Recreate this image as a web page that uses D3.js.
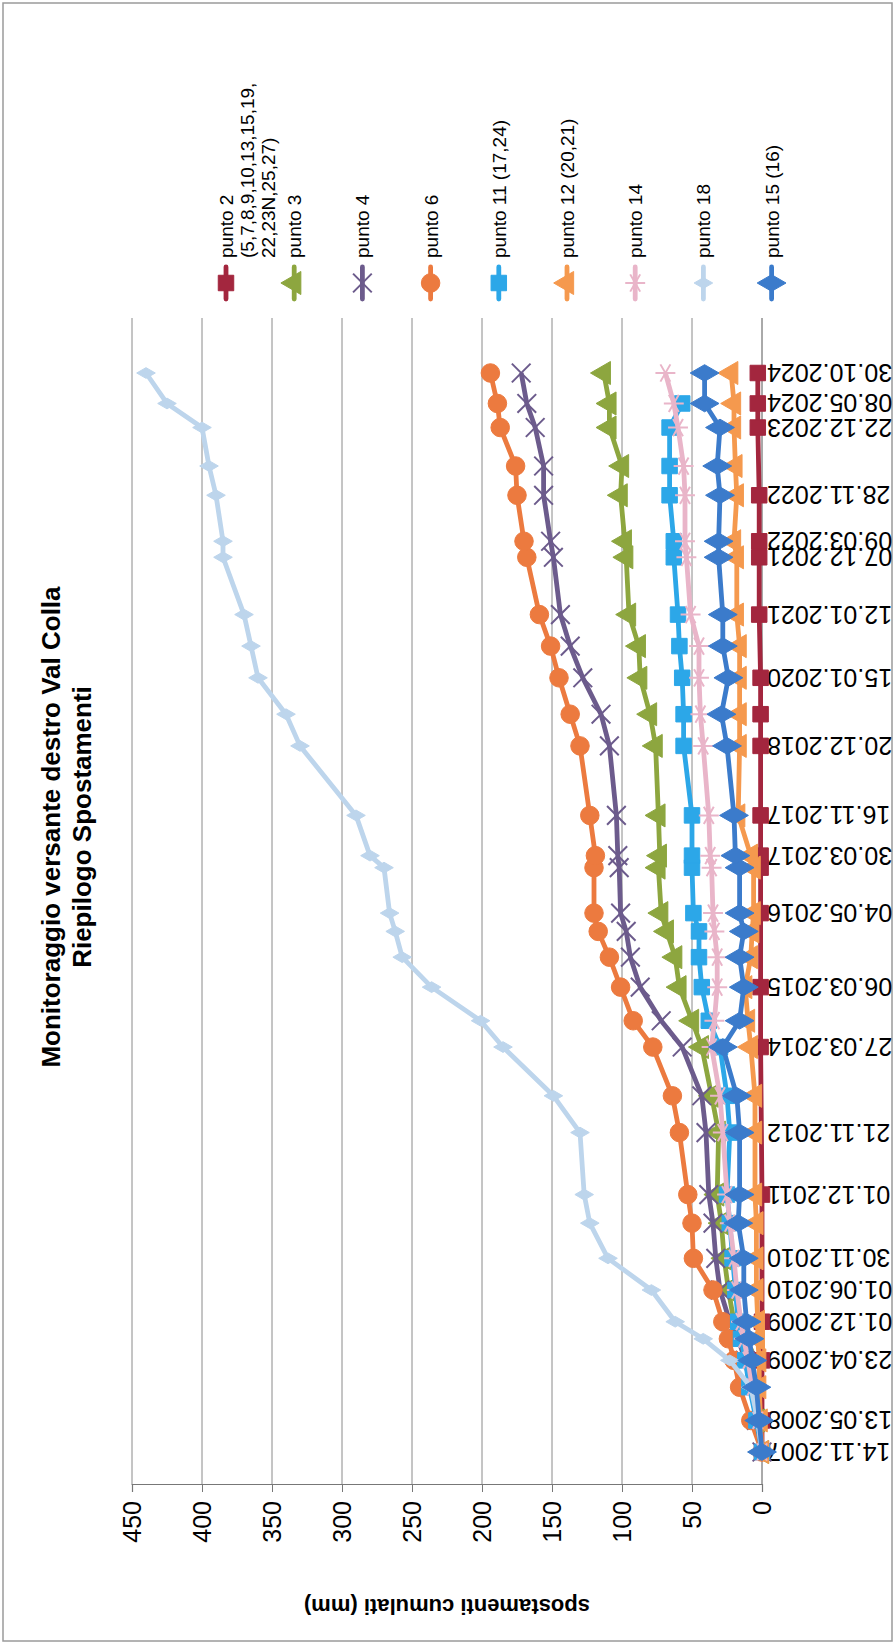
<!DOCTYPE html>
<html>
<head>
<meta charset="utf-8">
<script src="https://cdn.jsdelivr.net/npm/d3@7"></script>
<style>
  html, body { margin: 0; padding: 0; background: #ffffff; }
  svg { display: block; }
  text { font-family: "Liberation Sans", Arial, sans-serif; fill: #000; }
</style>
</head>
<body>
<script>
// ---------------- DATA ----------------
const dates = ["14.11.2007","13.05.2008","20.11.2008","23.04.2009","25.08.2009","01.12.2009","01.06.2010",
  "30.11.2010","20.06.2011","01.12.2011","21.11.2012","20.06.2013","27.03.2014","25.08.2014","06.03.2015",
  "25.08.2015","20.01.2016","04.05.2016","20.01.2017","30.03.2017","16.11.2017","20.12.2018","20.06.2019",
  "15.01.2020","15.07.2020","12.01.2021","07.12.2021","09.03.2022","28.11.2022","15.05.2023","22.12.2023",
  "08.05.2024","30.10.2024"];

const tickLabels = ["14.11.2007","13.05.2008","23.04.2009","01.12.2009","01.06.2010","30.11.2010","01.12.2011",
  "21.11.2012","27.03.2014","06.03.2015","04.05.2016","30.03.2017","16.11.2017","20.12.2018","15.01.2020",
  "12.01.2021","07.12.2021","09.03.2022","28.11.2022","22.12.2023","08.05.2024","30.10.2024"];

const valueTicks = [0, 50, 100, 150, 200, 250, 300, 350, 400, 450];

const seriesNames = ["punto 2\n(5,7,8,9,10,13,15,19,\n22,23N,25,27)", "punto 3", "punto 4", "punto 6",
  "punto 11 (17,24)", "punto 12 (20,21)", "punto 14", "punto 18", "punto 15 (16)"];

const punto2  = [0,0,null,0,null,0,null,null,null,0,null,null,1,null,1,null,null,1,1,1,1,1,1,1,null,2,2,2,2,null,3,3,3];
const punto3  = [0,3,7,11,15,20,24,27,29,32,31,36,43,50,59,62,68,72,74,73,74,76,80,87,88,95,97,98,101,100,109,109,113];
const punto4  = [0,4,8,12,17,23,30,33,35,38,40,43,57,72,87,94,97,101,102,103,104,109,115,128,137,144,149,151,156,156,162,168,172];
const punto6  = [0,8,16,20,24,28,35,49,50,53,59,64,78,92,101,109,117,120,120,119,123,130,137,145,151,159,168,170,175,176,187,189,194];
const punto11 = [0,4,9,12,15,17,19,21,23,25,23,25,30,38,43,45,45,49,50,50,50,56,56,57,59,60,63,63,66,66,66,57,null];
const punto12 = [0,1,2,2,3,3,4,4,4,5,5,5,8,10,12,8,7,6,6,8,17,16,16,16,16,18,18,20,18,19,20,20,22];
const punto14 = [0,3,7,10,13,15,18,20,23,25,28,30,36,34,32,32,34,35,36,37,38,42,44,45,45,51,54,55,55,56,60,63,69];
const punto18 = [0,3,8,23,42,62,79,110,123,127,130,149,185,201,236,257,262,266,270,280,290,330,340,360,365,370,385,385,390,395,400,425,440];
const punto15 = [0,2,4,7,9,11,13,13,17,16,16,18,28,16,13,16,13,16,16,19,20,25,29,24,28,28,31,31,30,32,30,41,41];

const seriesValues = [punto2, punto3, punto4, punto6, punto11, punto12, punto14, punto18, punto15];
const seriesColors = ["#A3263E", "#8DA63F", "#6C5B8C", "#EC7A3F", "#2CA7E8", "#F5994E", "#E9B5C9", "#BDD5EC", "#3B7BCB"];
const seriesMarkers = ["square", "triangle", "times", "circle", "square", "triangle", "asterisk", "diamondSmall", "diamond"];

const titleLines = ["Monitoraggio versante destro Val Colla", "Riepilogo Spostamenti"];
const axisTitle = "spostamenti cumulati (mm)";

// ---------------- LAYOUT (chart drawn unrotated, then turned -90°) ----------------
const W = 1645, H = 896;
const parse = d3.timeParse("%d.%m.%Y");
const plotLeft = 160, plotRight = 1327;

const x = d3.scaleTime()
  .domain([parse(dates[0]), parse(dates[dates.length - 1])])
  .range([193, 1272]);
const y = d3.scaleLinear().domain([0, 450]).range([762, 132]);

const svg = d3.select("body").append("svg").attr("width", 896).attr("height", 1645);
svg.append("rect").attr("x", 0).attr("y", 0).attr("width", 896).attr("height", 1645).attr("fill", "#fff");
svg.append("rect").attr("x", 3).attr("y", 3).attr("width", 889).attr("height", 1638)
  .attr("fill", "none").attr("stroke", "#9a9a9a").attr("stroke-width", 1.5);

const g = svg.append("g").attr("transform", `translate(0,${W}) rotate(-90)`);

// gridlines
g.append("g").selectAll("line").data(valueTicks).join("line")
  .attr("x1", plotLeft).attr("x2", plotRight)
  .attr("y1", d => y(d)).attr("y2", d => y(d))
  .attr("stroke", d => d === 0 ? "#555" : "#8a8a8a").attr("stroke-width", 1);

// value axis
const yAxis = d3.axisLeft(y).tickValues(valueTicks).tickSize(7).tickPadding(9);
const ya = g.append("g").attr("transform", `translate(${plotLeft},0)`).call(yAxis);
ya.select(".domain").attr("stroke", "#777").attr("stroke-width", 1.2);
ya.selectAll(".tick line").attr("stroke", "#777");
ya.selectAll(".tick text").attr("font-size", 25).attr("font-family", "Liberation Sans, Arial, sans-serif").attr("fill", "#000");

// date labels
g.append("g").selectAll("text").data(tickLabels).join("text")
  .attr("transform", d => `translate(${x(parse(d))},${y(0) + 5}) rotate(-90)`)
  .attr("text-anchor", "end").attr("dominant-baseline", "central")
  .attr("font-size", 25).text(d => d);

// titles
g.append("text").attr("x", 818).attr("y", 60).attr("text-anchor", "middle")
  .attr("font-size", 26).attr("font-weight", "bold").text(titleLines[0]);
g.append("text").attr("x", 818).attr("y", 91).attr("text-anchor", "middle")
  .attr("font-size", 26).attr("font-weight", "bold").text(titleLines[1]);
g.append("text").attr("transform", `translate(46,${(y(0) + y(450)) / 2}) rotate(-90)`)
  .attr("text-anchor", "middle").attr("font-size", 22).attr("font-weight", "bold").text(axisTitle);

// marker helper
function marker(sel, type, color) {
  const sym = {
    square: [d3.symbolSquare, 240, true],
    triangle: [d3.symbolTriangle, 230, true],
    circle: [d3.symbolCircle, 270, true],
    diamond: [d3.symbolDiamond, 240, true],
    diamondSmall: [d3.symbolDiamond, 100, true],
    times: [d3.symbolTimes, 230, false],
    asterisk: [d3.symbolAsterisk, 280, false]
  }[type];
  sel.attr("d", d3.symbol().type(sym[0]).size(sym[1])());
  if (sym[2]) sel.attr("fill", color).attr("stroke", color).attr("stroke-width", 1);
  else sel.attr("fill", "none").attr("stroke", color).attr("stroke-width", 2);
}

// series
const line = d3.line().x(d => x(d.date)).y(d => y(d.v));
seriesValues.forEach((vals, i) => {
  const pts = vals.map((v, j) => ({ date: parse(dates[j]), v })).filter(p => p.v !== null);
  const sg = g.append("g");
  sg.append("path").datum(pts).attr("d", line).attr("fill", "none")
    .attr("stroke", seriesColors[i]).attr("stroke-width", 4.8).attr("stroke-linejoin", "round");
  sg.selectAll("path.m").data(pts).join("path").attr("class", "m")
    .attr("transform", d => `translate(${x(d.date)},${y(d.v)})`)
    .call(s => marker(s, seriesMarkers[i], seriesColors[i]));
});

// legend
const lg = g.append("g");
seriesNames.forEach((name, i) => {
  const cy = 226 + i * 68.2;
  lg.append("line").attr("x1", 1346).attr("x2", 1378).attr("y1", cy).attr("y2", cy)
    .attr("stroke", seriesColors[i]).attr("stroke-width", 4.8).attr("stroke-linecap", "round");
  lg.append("path").attr("transform", `translate(1362,${cy})`).call(s => marker(s, seriesMarkers[i], seriesColors[i]));
  const t = lg.append("text").attr("x", 1387).attr("y", cy).attr("dominant-baseline", "central").attr("font-size", 19);
  name.split("\n").forEach((ln, k) => {
    t.append("tspan").attr("x", 1387).attr("dy", k === 0 ? 0 : 21).text(ln);
  });
});
</script>
</body>
</html>
